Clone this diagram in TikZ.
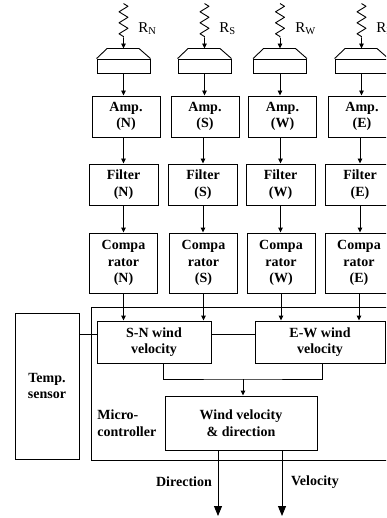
\documentclass[tikz,border=0pt]{standalone}
\usepackage{fontspec}
\setmainfont{Liberation Serif}
\usetikzlibrary{arrows.meta,decorations.pathmorphing}

\tikzset{
  blk/.style={draw, line width=0.9pt, align=center, inner sep=0pt,
    font=\fontsize{14}{16.5}\selectfont\bfseries},
  amp/.style={blk, minimum width=68, minimum height=41},
  filt/.style={blk, minimum width=69, minimum height=41},
  comp/.style={blk, minimum width=68, minimum height=60},
  ant/.style={draw, line width=0.9pt, minimum width=53, minimum height=14, inner sep=0pt},
  lbl/.style={anchor=west, inner sep=0pt, font=\fontsize{15}{17}\selectfont},
  txt/.style={inner sep=0pt, font=\fontsize{14}{16.5}\selectfont\bfseries},
  arr/.style={-{Triangle[length=5pt,width=4.5pt]}, line width=0.9pt},
  outarr/.style={-{Triangle[length=10pt,width=8pt]}, line width=0.9pt},
  wave/.style={decorate, decoration={zigzag, segment length=11pt, amplitude=4.5pt}, line width=0.9pt, line join=round},
}

\begin{document}
\begin{tikzpicture}[x=1pt, y=-1pt, line width=0.9pt]
  \clip (0,0) rectangle (386,518);

  % antennas
  \node (aN)[ant] at (123.5,66) {};
  \node (aS)[ant] at (204.5,66) {};
  \node (aW)[ant] at (280,66) {};
  \node (aE)[ant] at (361.5,66) {};
  \foreach \a in {aN,aS,aW,aE} {
    \draw (\a.north west) -- ++(10.5,-10) coordinate (\a t) -- ++(32,0) -- (\a.north east);
    \draw[line width=1.8pt] (\a t) -- ++(32,0);
    \coordinate (\a w) at ([yshift=21pt]\a.north);
    \coordinate (\a v) at ([yshift=55pt]\a.north);
    \draw[wave] (\a v) -- (\a w);
    \draw[arr] (\a w) -- ([yshift=10pt]\a.north);
  }
  \node (rN)[lbl] at (138,29) {R$_{\mathrm{N}}$};
  \node (rS)[lbl] at (219,29) {R$_{\mathrm{S}}$};
  \node (rW)[lbl] at (295,29) {R$_{\mathrm{W}}$};
  \node (rE)[lbl] at (376,29) {R$_{\mathrm{E}}$};

  % amplifiers, filters, comparators
  \node (ampN)[amp] at (126,116.5) {Amp.\\(N)};
  \node (ampS)[amp] at (205,116.5) {Amp.\\(S)};
  \node (ampW)[amp] at (282.5,116.5) {Amp.\\(W)};
  \node (ampE)[amp] at (362,116.5) {Amp.\\(E)};
  \node (fN)[filt] at (123.5,184.5) {Filter\\(N)};
  \node (fS)[filt] at (203,184.5) {Filter\\(S)};
  \node (fW)[filt] at (280.5,184.5) {Filter\\(W)};
  \node (fE)[filt] at (360,184.5) {Filter\\(E)};
  \node (cN)[comp] at (123.5,263) {Compa\\rator\\(N)};
  \node (cS)[comp] at (203.5,263) {Compa\\rator\\(S)};
  \node (cW)[comp] at (281,263) {Compa\\rator\\(W)};
  \node (cE)[comp] at (359,263) {Compa\\rator\\(E)};

  \draw[arr] (aN.south) -- (aN.south |- ampN.north);
  \draw[arr] (aS.south) -- (aS.south |- ampS.north);
  \draw[arr] (aW.south) -- (aW.south |- ampW.north);
  \draw[arr] (aE.south) -- (aE.south |- ampE.north);
  \draw[arr] (fN.north |- ampN.south) -- (fN.north);
  \draw[arr] (fS.north |- ampS.south) -- (fS.north);
  \draw[arr] (fW.north |- ampW.south) -- (fW.north);
  \draw[arr] (fE.north |- ampE.south) -- (fE.north);
  \draw[arr] (fN.south) -- (fN.south |- cN.north);
  \draw[arr] (fS.south) -- (fS.south |- cS.north);
  \draw[arr] (fW.south) -- (fW.south |- cW.north);
  \draw[arr] (fE.south) -- (fE.south |- cE.north);

  % micro-controller
  \draw (91,307) rectangle (400,460);
  \node (ts)[blk, minimum width=64, minimum height=146] at (47,386) {Temp.\\sensor};
  \node (sn)[blk, minimum width=114, minimum height=42] at (154,342) {S-N wind\\velocity};
  \node (ew)[blk, minimum width=130, minimum height=42] at (320,342) {E-W wind\\velocity};
  \node (wv)[blk, minimum width=152, minimum height=54] at (241,423) {Wind velocity\\\& direction};
  \node (mc)[txt, anchor=west, align=left] at (97,423) {Micro-\\controller};

  \draw[arr] (cN.south) -- (cN.south |- sn.north);
  \draw[arr] (cS.south) -- (cS.south |- sn.north);
  \draw[arr] (cW.south) -- (cW.south |- ew.north);
  \draw[arr] (cE.south) -- (cE.south |- ew.north);

  \coordinate (j) at (0,334);
  \draw (ts.east |- j) -- (sn.west |- j);
  \draw (sn.east |- j) -- (ew.west |- j);
  \coordinate (m) at (243,379);
  \draw ([xshift=9pt]sn.south) |- (m) -| ([xshift=2pt]ew.south);
  \draw[arr] (m) -- (m |- wv.north);

  % outputs
  \coordinate (dO) at (218,516);
  \coordinate (vO) at (282,516);
  \draw[outarr] (wv.south -| dO) -- (dO);
  \draw[outarr] (wv.south -| vO) -- (vO);
  \node (dl)[txt] at (184,482) {Direction};
  \node (vl)[txt] at (315,482) {Velocity};
\end{tikzpicture}
\end{document}
